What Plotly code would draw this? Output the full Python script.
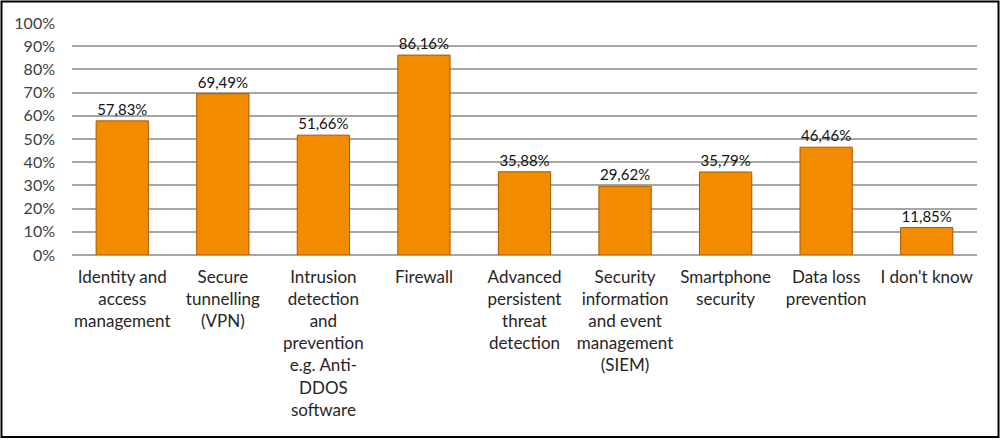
import plotly.graph_objects as go

categories = [
    "Identity and<br>access<br>management",
    "Secure<br>tunnelling<br>(VPN)",
    "Intrusion<br>detection<br>and<br>prevention<br>e.g. Anti-<br>DDOS<br>software",
    "Firewall",
    "Advanced<br>persistent<br>threat<br>detection",
    "Security<br>information<br>and event<br>management<br>(SIEM)",
    "Smartphone<br>security",
    "Data loss<br>prevention",
    "I don't know",
]
values = [57.83, 69.49, 51.66, 86.16, 35.88, 29.62, 35.79, 46.46, 11.85]
labels = [f"{v:.2f}%".replace(".", ",") for v in values]
y_ticks = list(range(0, 101, 10))
y_tick_text = [f"{v}%" for v in y_ticks]

FONT = "Lato, Open Sans, sans-serif"

fig = go.Figure(
    go.Bar(
        x=categories,
        y=values,
        text=labels,
        textposition="outside",
        textfont=dict(family=FONT, size=15, color="#111111"),
        cliponaxis=False,
        marker=dict(color="#F28B00", line=dict(color="#A85A00", width=1)),
        width=0.52,
    )
)

L, R, T, B = 72, 23, 23, 184.5
W, H = 1000, 440
pw, ph = W - L - R, H - T - B

fig.update_layout(
    width=W,
    height=H,
    margin=dict(l=L, r=R, t=T, b=B, pad=0),
    paper_bgcolor="white",
    plot_bgcolor="white",
    showlegend=False,
    xaxis=dict(
        type="category",
        tickangle=0,
        showgrid=False,
        showline=False,
        ticks="",
        ticklabelstandoff=10,
        tickfont=dict(family=FONT, size=17, color="#262626"),
    ),
    yaxis=dict(
        range=[0, 100],
        tickvals=y_ticks,
        ticktext=y_tick_text,
        showgrid=True,
        gridcolor="#A6A6A6",
        gridwidth=2,
        zeroline=True,
        zerolinecolor="#A6A6A6",
        zerolinewidth=2,
        showline=False,
        ticks="",
        ticklabelstandoff=16,
        tickfont=dict(family=FONT, size=16, color="#404040"),
    ),
    shapes=[
        dict(
            type="rect",
            xref="paper",
            yref="paper",
            x0=(1.5 - L) / pw,
            x1=(W - 1.5 - L) / pw,
            y0=(H - B - (H - 2)) / ph,
            y1=(H - B - 1.5) / ph,
            line=dict(color="black", width=2),
            layer="above",
        )
    ],
)

fig.write_html(
    "out.html",
    config={"displayModeBar": False},
    post_script="document.body.style.margin='0';document.body.style.overflow='hidden';",
)
